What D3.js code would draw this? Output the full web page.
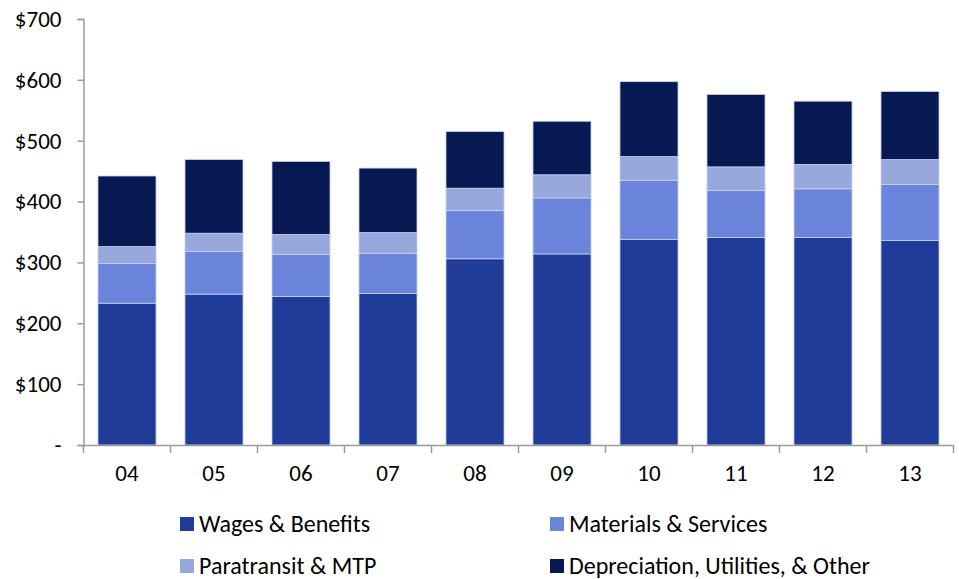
<!DOCTYPE html>
<html><head><meta charset="utf-8">
<script src="https://cdn.jsdelivr.net/npm/d3@7/dist/d3.min.js"></script>
<style>
html,body{margin:0;padding:0;background:#fff;}
svg{display:block;}
svg text{font-family:Carlito, Lato, "Noto Sans", sans-serif;}
</style></head>
<body>
<svg id="chart" width="959" height="579"></svg>
<script>
const years = ["04","05","06","07","08","09","10","11","12","13"];
const wages = [233,248,244,249,306,314,338,341,341,336];
const materials = [65,70,69,66,79,92,97,77,80,92];
const paratransit = [28,30,33,34,37,38,39,39,40,41];
const other = [116,121,120,106,93,88,123,119,104,112];
const seriesNames = ["Wages & Benefits","Materials & Services","Paratransit & MTP","Depreciation, Utilities, & Other"];
const seriesColors = ["#1F3C99","#6A84DC","#98A8DC","#071952"];
const yTicks = [0,100,200,300,400,500,600,700];

const svg = d3.select("#chart");
const x0 = 83.5, x1 = 953.5, yBottom = 445, yTop = 19;
const x = d3.scaleBand().domain(years).range([x0, x1]).paddingInner(0.333).paddingOuter(0.1665);
const y = d3.scaleLinear().domain([0,700]).range([yBottom, yTop]);

const keys = ["wages","materials","paratransit","other"];
const rows = years.map((yr,i)=>({year:yr, wages:wages[i], materials:materials[i], paratransit:paratransit[i], other:other[i]}));
const stacked = d3.stack().keys(keys)(rows);

svg.append("g").selectAll("g").data(stacked).join("g")
  .attr("fill",(d,i)=>seriesColors[i])
  .selectAll("rect").data(d=>d).join("rect")
  .attr("x",d=>x(d.data.year))
  .attr("width",x.bandwidth())
  .attr("y",d=>y(d[1]))
  .attr("height",d=>y(d[0])-y(d[1]))
  .attr("stroke","#c9d2f2").attr("stroke-width",0.8);

// Y axis
const yAxis = d3.axisLeft(y).tickValues(yTicks).tickSize(6).tickPadding(16)
  .tickFormat(d=> d===0 ? "-" : "$"+d);
const gy = svg.append("g").attr("transform",`translate(${x0},0)`).call(yAxis)
  .attr("font-family",null).attr("font-size",null);
gy.select(".domain").attr("stroke","#9a9a9a").attr("stroke-width",1.5);
gy.selectAll(".tick line").attr("stroke","#9a9a9a").attr("stroke-width",1.5);
gy.selectAll(".tick text").attr("font-size",23).attr("fill","#000");

// X axis
const xAxis = d3.axisBottom(x).tickSize(0).tickPadding(20);
const gx = svg.append("g").attr("transform",`translate(0,${yBottom})`).call(xAxis)
  .attr("font-family",null).attr("font-size",null);
gx.select(".domain").attr("stroke","#9a9a9a").attr("stroke-width",1.5);
gx.selectAll(".tick text").attr("font-size",23).attr("fill","#000");
// category boundary ticks
const step = x.step();
const boundaries = d3.range(years.length+1).map(i=>x0 + i*step);
gx.selectAll(".bt").data(boundaries).join("line").attr("class","bt")
  .attr("x1",d=>d).attr("x2",d=>d).attr("y1",0).attr("y2",8)
  .attr("stroke","#9a9a9a").attr("stroke-width",1.5);

// Legend
const legPos = [[180,524],[550,524],[180,566],[550,566]];
const lg = svg.append("g");
seriesNames.forEach((name,k)=>{
  const [lx,ly] = legPos[k];
  lg.append("rect").attr("x",lx).attr("y",ly-7).attr("width",14).attr("height",14).attr("fill",seriesColors[k]);
  lg.append("text").attr("x",lx+19).attr("y",ly).attr("dy","0.35em")
    .attr("font-size",24).attr("fill","#000").text(name);
});
</script>
</body></html>
